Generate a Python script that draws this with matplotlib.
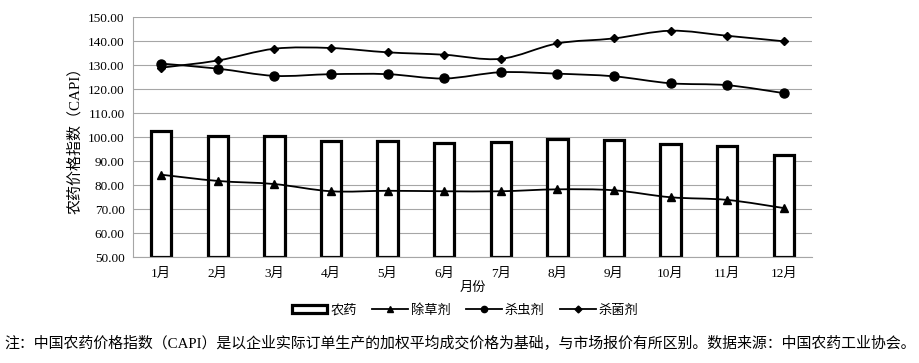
import numpy as np
import matplotlib
matplotlib.use('Agg')
import matplotlib.pyplot as plt
from matplotlib.path import Path
from matplotlib.patches import PathPatch
from matplotlib.lines import Line2D
from matplotlib.patches import Rectangle

plt.rcParams['font.family'] = ['Liberation Serif', 'Noto Sans CJK SC']

months = ['1月', '2月', '3月', '4月', '5月', '6月', '7月', '8月', '9月', '10月', '11月', '12月']
capi = [102.6, 100.6, 100.3, 98.5, 98.5, 97.4, 98.0, 99.3, 98.9, 97.1, 96.1, 92.7]
herbicide = [84.3, 81.7, 80.4, 77.4, 77.6, 77.4, 77.4, 78.2, 77.8, 74.9, 73.8, 70.4]
insecticide = [130.6, 128.5, 125.5, 126.2, 126.2, 124.4, 127.0, 126.4, 125.3, 122.4, 121.6, 118.3]
fungicide = [128.9, 131.9, 136.8, 137.1, 135.3, 134.3, 132.6, 139.0, 141.1, 144.3, 142.2, 139.9]

cjk = ['Noto Sans CJK SC', 'DejaVu Sans']
serif_cjk = ['Liberation Serif', 'Noto Sans CJK SC']


def smooth_line(ax, x, y, **kw):
    # Excel-style smoothed line drawn as cubic Bezier segments
    x = np.asarray(x, float)
    y = np.asarray(y, float)
    n = len(x)
    verts = [(x[0], y[0])]
    codes = [Path.MOVETO]
    for i in range(n - 1):
        x0, y0 = (x[i - 1], y[i - 1]) if i > 0 else (x[i], y[i])
        x3, y3 = (x[i + 2], y[i + 2]) if i + 2 < n else (x[i + 1], y[i + 1])
        c1 = (x[i] + (x[i + 1] - x0) / 6, y[i] + (y[i + 1] - y0) / 6)
        c2 = (x[i + 1] - (x3 - x[i]) / 6, y[i + 1] - (y3 - y[i]) / 6)
        verts += [c1, c2, (x[i + 1], y[i + 1])]
        codes += [Path.CURVE4] * 3
    ax.add_patch(PathPatch(Path(verts, codes), fill=False, **kw))


fig = plt.figure(figsize=(9.19, 3.63), dpi=100)
ax = fig.add_axes([0.1447, 0.292, 0.7389, 0.661])

x = np.arange(len(months))
ax.bar(x, np.array(capi) - 50, bottom=50, width=0.36, facecolor='white',
       edgecolor='black', linewidth=2.3, zorder=2)

for vals, mk, ms in [(herbicide, '^', 5.5), (insecticide, 'o', 6.5), (fungicide, 'D', 4.5)]:
    smooth_line(ax, x, vals, edgecolor='black', linewidth=1.3, zorder=3)
    ax.plot(x, vals, linestyle='none', marker=mk, markersize=ms, color='black', zorder=4)

ax.set_xlim(-0.5, len(months) - 0.5)
ax.set_ylim(50, 150)
ax.set_yticks(np.arange(50, 151, 10))
ax.set_yticklabels([f'{v:.2f}' for v in np.arange(50, 151, 10)], fontsize=9.5)
ax.set_xticks(x)
ax.set_xticklabels(months, fontsize=9.5, family=serif_cjk)
ax.tick_params(length=0, pad=6)
ax.tick_params(axis='x', pad=8)
ax.grid(axis='y', color='#a6a6a6', linewidth=0.8)
ax.set_axisbelow(True)
for s in ['top', 'right']:
    ax.spines[s].set_visible(False)
for s in ['left', 'bottom']:
    ax.spines[s].set_color('#a6a6a6')
    ax.spines[s].set_linewidth(0.8)

fig.text(0.082, 0.622, '农药价格指数（CAPI）', rotation=90, ha='center', va='center',
         fontsize=10.8, family=serif_cjk)
fig.text(0.514, 1 - 287 / 363, '月份', ha='center', va='center', fontsize=9.5, family=cjk)

handles = [Rectangle((0, 0), 1, 1, facecolor='white', edgecolor='black', linewidth=2.3),
           Line2D([], [], color='black', lw=1.3, marker='^', markersize=4),
           Line2D([], [], color='black', lw=1.3, marker='o', markersize=4.5),
           Line2D([], [], color='black', lw=1.3, marker='D', markersize=3.5)]
fig.legend(handles, ['农药', '除草剂', '杀虫剂', '杀菌剂'], loc='center',
           bbox_to_anchor=(0.506, 1 - 310 / 363), ncol=4, frameon=False,
           prop={'family': cjk, 'size': 9.5}, handlelength=2.7, handleheight=0.5,
           handletextpad=0.2, columnspacing=1.2)

fig.text(0.005, 1 - 343 / 363,
         '注：中国农药价格指数（CAPI）是以企业实际订单生产的加权平均成交价格为基础，与市场报价有所区别。数据来源：中国农药工业协会。',
         ha='left', va='center', fontsize=10.75, family=serif_cjk)

fig.savefig('out.png', dpi=100)
